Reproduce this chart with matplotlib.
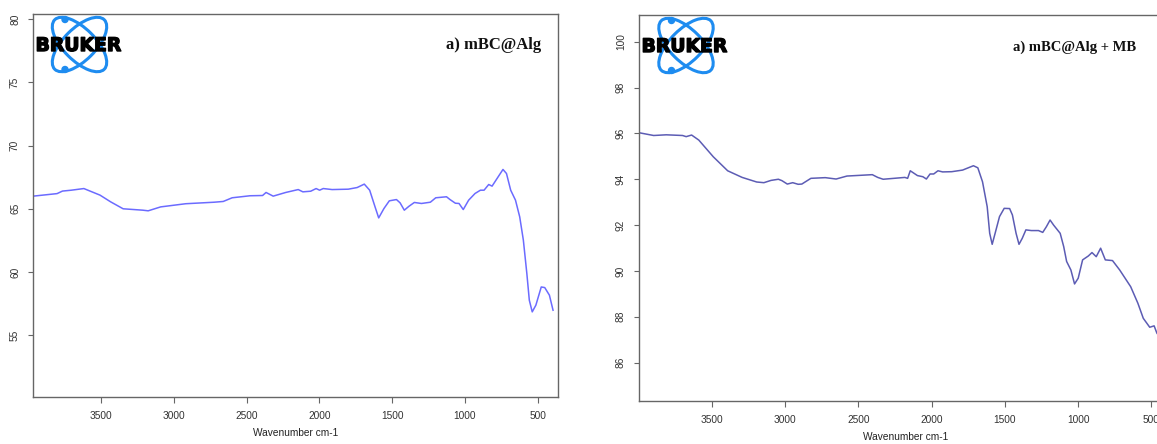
import matplotlib
matplotlib.use("Agg")
import matplotlib.pyplot as plt
import matplotlib.patheffects as pe
from matplotlib.patches import Ellipse, Circle

# ---------- DATA ----------
wn_alg = [3966, 3802, 3765, 3704, 3618, 3507, 3434, 3348, 3213, 3176, 3090, 2918,
          2722, 2660, 2599, 2476, 2390, 2366, 2317, 2231, 2145, 2113, 2059, 2022,
          1998, 1973, 1912, 1801, 1740, 1691, 1654, 1617, 1592, 1556, 1519, 1470,
          1445, 1416, 1384, 1347, 1298, 1237, 1200, 1126, 1102, 1065, 1040, 1011,
          974, 930, 893, 868, 836, 813, 771, 738, 714, 685, 652, 623, 598, 574,
          557, 537, 512, 475, 451, 419, 394]
tr_alg = [66.0, 66.2, 66.4, 66.47, 66.6, 66.08, 65.55, 65.0, 64.89, 64.84, 65.15, 65.4,
          65.52, 65.58, 65.87, 66.03, 66.05, 66.29, 66.0, 66.29, 66.52, 66.34, 66.39, 66.6,
          66.47, 66.6, 66.52, 66.55, 66.68, 66.95, 66.47, 65.15, 64.28, 65.02, 65.63, 65.73,
          65.47, 64.89, 65.2, 65.5, 65.42, 65.52, 65.87, 65.95, 65.73, 65.44, 65.42, 64.94,
          65.68, 66.21, 66.47, 66.47, 66.92, 66.79, 67.53, 68.11, 67.79, 66.47, 65.68, 64.36,
          62.52, 59.88, 57.77, 56.85, 57.38, 58.82, 58.77, 58.17, 56.98]

wn_mb = [3996, 3897, 3811, 3700, 3675, 3638, 3589, 3490, 3392, 3293, 3194, 3145,
         3096, 3046, 3022, 2985, 2948, 2911, 2886, 2824, 2726, 2652, 2578, 2405,
         2368, 2331, 2257, 2183, 2164, 2146, 2097, 2060, 2036, 2011, 1986, 1957,
         1925, 1863, 1789, 1715, 1685, 1653, 1621, 1604, 1587, 1567, 1537, 1505,
         1468, 1449, 1424, 1404, 1382, 1357, 1320, 1271, 1242, 1217, 1192, 1168,
         1123, 1099, 1079, 1050, 1025, 1000, 970, 931, 906, 877, 847, 815, 766,
         717, 642, 593, 556, 512, 482, 463, 440]
tr_mb = [96.03, 95.91, 95.94, 95.91, 95.86, 95.93, 95.71, 94.98, 94.37, 94.08, 93.88, 93.85,
         93.95, 94.0, 93.94, 93.79, 93.85, 93.78, 93.79, 94.04, 94.07, 94.01, 94.14, 94.2,
         94.08, 94.0, 94.04, 94.08, 94.04, 94.37, 94.16, 94.11, 94.01, 94.23, 94.23, 94.37,
         94.32, 94.33, 94.4, 94.59, 94.5, 93.89, 92.8, 91.64, 91.16, 91.64, 92.37, 92.73,
         92.72, 92.44, 91.64, 91.16, 91.42, 91.79, 91.76, 91.76, 91.68, 91.93, 92.22, 92.0,
         91.64, 91.06, 90.41, 90.04, 89.43, 89.68, 90.48, 90.65, 90.8, 90.62, 90.99, 90.48, 90.45,
         90.04, 89.31, 88.59, 87.93, 87.54, 87.6, 87.28, 87.1]

x_ticks = [3500, 3000, 2500, 2000, 1500, 1000, 500]
y_ticks_alg = [55, 60, 65, 70, 75, 80]
y_ticks_mb = [86, 88, 90, 92, 94, 96, 98, 100]
titles = ["a) mBC@Alg", "a) mBC@Alg + MB"]

# ---------- FIGURE ----------
W, H = 1157, 444
fig = plt.figure(figsize=(W / 100, H / 100), dpi=100)
plt.rcParams["font.family"] = ["Liberation Sans", "DejaVu Sans"]


def px_axes(x0, y0, x1, y1):
    # axes placed by pixel box (top-left origin)
    return fig.add_axes([x0 / W, (H - y1) / H, (x1 - x0) / W, (y1 - y0) / H])


def style(ax, yticks):
    for s in ax.spines.values():
        s.set_color("#666666")
        s.set_linewidth(1.0)
    ax.set_xticks(x_ticks)
    ax.set_yticks(yticks)
    ax.tick_params(axis="x", length=4.3, width=0.8, color="#666666",
                   labelsize=7.3, labelcolor="#333333", pad=6)
    ax.tick_params(axis="y", length=3.5, width=0.8, color="#666666",
                   labelsize=7.3, labelcolor="#333333", pad=6)
    for lab in ax.get_yticklabels():
        lab.set_rotation(90)
        lab.set_va("center")
    ax.set_xlabel("Wavenumber cm-1", fontsize=7.3, color="#222222", labelpad=5)


ax1 = px_axes(33.2, 14, 557.7, 397)
ax1.plot(wn_alg, tr_alg, color="#6b6bff", lw=1.1)
ax1.set_xlim(3966, 362)
ax1.set_ylim(50.12, 80.4)
style(ax1, y_ticks_alg)

ax2 = px_axes(639, 15, 1172, 401)
ax2.plot(wn_mb, tr_mb, color="#5c5cb4", lw=1.1)
ax2.set_xlim(3997, 360)
ax2.set_ylim(84.32, 101.17)
style(ax2, y_ticks_mb)

# ---------- overlay: titles and Bruker logos in pixel coords ----------
ov = fig.add_axes([0, 0, 1, 1], zorder=5)
ov.set_xlim(0, W)
ov.set_ylim(H, 0)
ov.axis("off")

ov.text(541, 49, titles[0], family="Liberation Serif", weight="bold",
        fontsize=12, ha="right", va="baseline", color="#111111")
ov.text(1136, 50.5, titles[1], family="Liberation Serif", weight="bold",
        fontsize=10.5, ha="right", va="baseline", color="#111111")

blue = "#1e8cf0"
for cx, cy, tx in [(79.5, 44.5, 78.5), (686, 45.5, 684.5)]:
    for ang in (45, -45):
        ov.add_patch(Ellipse((cx, cy), 70, 32, angle=ang, fill=False,
                             ec=blue, lw=2.2))
    ov.add_patch(Circle((cx - 14.5, cy - 25), 3.0, color=blue))
    ov.add_patch(Circle((cx - 14.5, cy + 25), 3.0, color=blue))
    ov.text(tx, cy + 1, "BRUKER", family="DejaVu Sans", weight="bold",
            fontsize=13.5, ha="center", va="center", color="black",
            path_effects=[pe.withStroke(linewidth=1.0, foreground="black")])

fig.savefig("out.png", dpi=100)
